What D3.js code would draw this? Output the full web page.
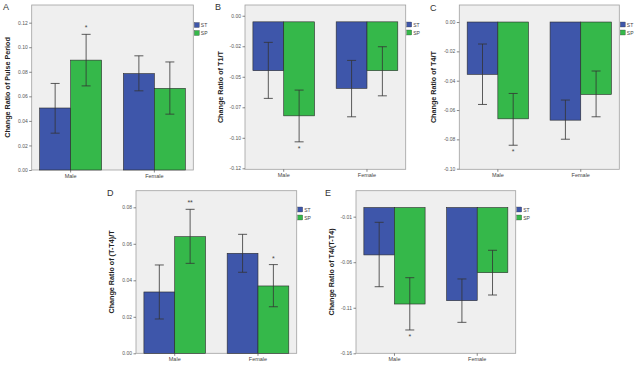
<!DOCTYPE html>
<html>
<head>
<meta charset="utf-8">
<script src="https://cdn.jsdelivr.net/npm/d3@7"></script>
<style>
  body { margin: 0; background: #fff; }
  svg { display: block; font-family: "Liberation Sans", Arial, sans-serif; }
</style>
</head>
<body>
<svg id="chart" width="643" height="368"></svg>
<script>
// Shared categories / series
const categories = ['Male', 'Female'];
const series = ['ST', 'SP'];
const seriesColors = ['#3e56aa', '#35b84a'];

// Panel A - Change Ratio of Pulse Period
const aMeans = [[0.0505, 0.0895], [0.0785, 0.0665]];
const aLow = [[0.030, 0.0685], [0.0645, 0.0455]];
const aHigh = [[0.0705, 0.1105], [0.0930, 0.0880]];
const aStars = [['', '*'], ['', '']];
const aTicks = [0, 0.02, 0.04, 0.06, 0.08, 0.10, 0.12];
const aTickLabels = ['0.00', '0.02', '0.04', '0.06', '0.08', '0.10', '0.12'];

// Panel B - Change Ratio of T1/T
const bMeans = [[-0.0450, -0.0820], [-0.0595, -0.0450]];
const bLow = [[-0.0677, -0.1033], [-0.0828, -0.0656]];
const bHigh = [[-0.0218, -0.0609], [-0.0366, -0.0254]];
const bStars = [['', '*'], ['', '']];
const bTicks = [0, -0.025, -0.05, -0.075, -0.10, -0.125];
const bTickLabels = ['0.00', '-0.02', '-0.05', '-0.07', '-0.10', '-0.12'];

// Panel C - Change Ratio of T4/T
const cMeans = [[-0.0357, -0.0660], [-0.0669, -0.0494]];
const cLow = [[-0.0562, -0.0840], [-0.0799, -0.0646]];
const cHigh = [[-0.0150, -0.0487], [-0.0532, -0.0334]];
const cStars = [['', '*'], ['', '']];
const cTicks = [0, -0.02, -0.04, -0.06, -0.08, -0.10];
const cTickLabels = ['0.00', '-0.02', '-0.04', '-0.06', '-0.08', '-0.10'];

// Panel D - Change Ratio of (T-T4)/T
const dMeans = [[0.0336, 0.0639], [0.0548, 0.0369]];
const dLow = [[0.0188, 0.0493], [0.0444, 0.0255]];
const dHigh = [[0.0484, 0.0789], [0.0652, 0.0486]];
const dStars = [['', '**'], ['', '*']];
const dTicks = [0, 0.02, 0.04, 0.06, 0.08];
const dTickLabels = ['0.00', '0.02', '0.04', '0.06', '0.08'];

// Panel E - Change Ratio of T4/(T-T4)
const eMeans = [[-0.0520, -0.1059], [-0.1022, -0.0715]];
const eLow = [[-0.0869, -0.1344], [-0.1260, -0.0960]];
const eHigh = [[-0.0162, -0.0770], [-0.0784, -0.0469]];
const eStars = [['', '*'], ['', '']];
const eTicks = [-0.01, -0.06, -0.11, -0.16];
const eTickLabels = ['-0.01', '-0.06', '-0.11', '-0.16'];

const svg = d3.select('#chart');

const panels = [
  { letter: 'A', title: 'Change Ratio of Pulse Period', means: aMeans, low: aLow, high: aHigh, stars: aStars,
    ticks: aTicks, tickLabels: aTickLabels, base: 0, domain: [0, 0.1344],
    box: { x0: 31.7, x1: 193.3, y0: 5, y1: 170 }, letterPos: [3, 10], titleX: 8, legendY: 22.5 },
  { letter: 'B', title: 'Change Ratio of T1/T', means: bMeans, low: bLow, high: bHigh, stars: bStars,
    ticks: bTicks, tickLabels: bTickLabels, base: -0.005, domain: [-0.1258, 0.0088],
    box: { x0: 245, x1: 405.7, y0: 5, y1: 169.3 }, letterPos: [215, 10], titleX: 221, legendY: 22 },
  { letter: 'C', title: 'Change Ratio of T4/T', means: cMeans, low: cLow, high: cHigh, stars: cStars,
    ticks: cTicks, tickLabels: cTickLabels, base: 0, domain: [-0.1004, 0.0116],
    box: { x0: 459.3, x1: 619.3, y0: 5, y1: 169.3 }, letterPos: [430, 11], titleX: 434, legendY: 22 },
  { letter: 'D', title: 'Change Ratio of  (T-T4)/T', means: dMeans, low: dLow, high: dHigh, stars: dStars,
    ticks: dTicks, tickLabels: dTickLabels, base: 0, domain: [0, 0.0891],
    box: { x0: 136, x1: 296.7, y0: 190.7, y1: 353.3 }, letterPos: [107, 196], titleX: 112, legendY: 207 },
  { letter: 'E', title: 'Change Ratio of T4/(T-T4)', means: eMeans, low: eLow, high: eHigh, stars: eStars,
    ticks: eTicks, tickLabels: eTickLabels, base: 0, domain: [-0.16, 0.0185],
    box: { x0: 356, x1: 515.7, y0: 190.7, y1: 353.3 }, letterPos: [325, 196], titleX: 332, legendY: 207 }
];

panels.forEach(drawPanel);

function drawPanel(p) {
  const b = p.box;
  const g = svg.append('g');

  // Plot background
  g.append('rect')
    .attr('x', b.x0).attr('y', b.y0)
    .attr('width', b.x1 - b.x0).attr('height', b.y1 - b.y0)
    .attr('fill', '#efefef')
    .attr('stroke', '#a0a0a0')
    .attr('stroke-width', 0.8);

  const x = d3.scaleBand()
    .domain(categories)
    .range([b.x0, b.x1])
    .paddingInner(0.26)
    .paddingOuter(0.095);
  const xs = d3.scaleBand()
    .domain(series)
    .range([0, x.bandwidth()]);
  const y = d3.scaleLinear()
    .domain(p.domain)
    .range([b.y1, b.y0]);

  const rows = [];
  categories.forEach((c, ci) => {
    series.forEach((s, si) => {
      rows.push({ c, s, si, v: p.means[ci][si], lo: p.low[ci][si], hi: p.high[ci][si], star: p.stars[ci][si] });
    });
  });

  // Bars
  g.selectAll('rect.bar')
    .data(rows)
    .join('rect')
    .attr('class', 'bar')
    .attr('x', d => x(d.c) + xs(d.s))
    .attr('width', xs.bandwidth())
    .attr('y', d => Math.min(y(d.v), y(p.base)))
    .attr('height', d => Math.abs(y(d.v) - y(p.base)))
    .attr('fill', d => seriesColors[d.si])
    .attr('stroke', '#2a2a2a')
    .attr('stroke-width', 0.6);

  // Error bars
  const cap = 4.5;
  const eg = g.selectAll('g.err')
    .data(rows)
    .join('g')
    .attr('class', 'err')
    .attr('stroke', '#333')
    .attr('stroke-width', 0.8);
  eg.append('line')
    .attr('x1', d => x(d.c) + xs(d.s) + xs.bandwidth() / 2)
    .attr('x2', d => x(d.c) + xs(d.s) + xs.bandwidth() / 2)
    .attr('y1', d => y(d.lo))
    .attr('y2', d => y(d.hi));
  eg.append('line')
    .attr('x1', d => x(d.c) + xs(d.s) + xs.bandwidth() / 2 - cap)
    .attr('x2', d => x(d.c) + xs(d.s) + xs.bandwidth() / 2 + cap)
    .attr('y1', d => y(d.lo))
    .attr('y2', d => y(d.lo));
  eg.append('line')
    .attr('x1', d => x(d.c) + xs(d.s) + xs.bandwidth() / 2 - cap)
    .attr('x2', d => x(d.c) + xs(d.s) + xs.bandwidth() / 2 + cap)
    .attr('y1', d => y(d.hi))
    .attr('y2', d => y(d.hi));

  // Significance stars: above bar for positive, below for negative
  g.selectAll('text.star')
    .data(rows.filter(d => d.star))
    .join('text')
    .attr('class', 'star')
    .attr('x', d => x(d.c) + xs(d.s) + xs.bandwidth() / 2)
    .attr('y', d => d.v >= 0 ? y(d.hi) - 4 : y(d.lo) + 9)
    .attr('text-anchor', 'middle')
    .attr('font-size', 7)
    .attr('fill', '#444')
    .text(d => d.star);

  // Y axis
  const yAxis = d3.axisLeft(y)
    .tickValues(p.ticks)
    .tickFormat((d, i) => p.tickLabels[i])
    .tickSize(2.5)
    .tickPadding(1.5);
  const ya = g.append('g')
    .attr('transform', `translate(${b.x0},0)`)
    .call(yAxis);
  ya.select('.domain').remove();
  ya.selectAll('line').attr('stroke', '#555').attr('stroke-width', 0.7);
  ya.selectAll('text').attr('font-size', 5).attr('fill', '#555');

  // X axis
  const xAxis = d3.axisBottom(x)
    .tickSize(2.5)
    .tickPadding(1.5);
  const xa = g.append('g')
    .attr('transform', `translate(0,${b.y1})`)
    .call(xAxis);
  xa.select('.domain').remove();
  xa.selectAll('line').attr('stroke', '#555').attr('stroke-width', 0.7);
  xa.selectAll('text').attr('font-size', 5.5).attr('fill', '#444');

  // Axis title
  g.append('text')
    .attr('transform', `translate(${p.titleX},${(b.y0 + b.y1) / 2}) rotate(-90)`)
    .attr('text-anchor', 'middle')
    .attr('dominant-baseline', 'middle')
    .attr('font-size', 7.2)
    .attr('font-weight', 'bold')
    .attr('fill', '#222')
    .text(p.title);

  // Panel letter
  g.append('text')
    .attr('x', p.letterPos[0]).attr('y', p.letterPos[1])
    .attr('font-size', 9)
    .attr('fill', '#333')
    .text(p.letter);

  // Legend
  const lg = g.append('g')
    .attr('transform', `translate(${b.x1 + 1},${p.legendY})`);
  series.forEach((s, i) => {
    lg.append('rect')
      .attr('x', 0).attr('y', i * 8)
      .attr('width', 5).attr('height', 5)
      .attr('fill', seriesColors[i])
      .attr('stroke', '#333')
      .attr('stroke-width', 0.3);
    lg.append('text')
      .attr('x', 6.5).attr('y', i * 8 + 4.5)
      .attr('font-size', 5)
      .attr('fill', '#444')
      .text(s);
  });
}
</script>
</body>
</html>
